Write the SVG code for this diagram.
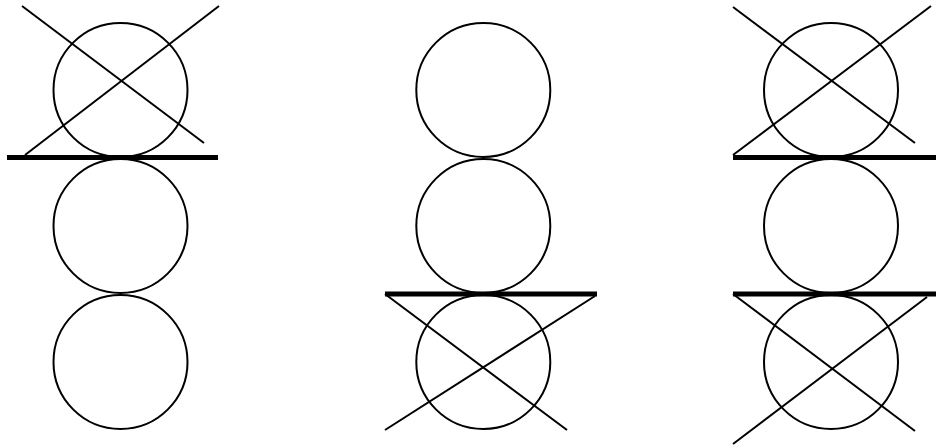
<svg xmlns="http://www.w3.org/2000/svg" width="936" height="446" viewBox="0 0 936 446">
<style>
.c{fill:none;stroke:#000;stroke-width:2}
.l{stroke:#000;stroke-width:2;fill:none}
.t{stroke:#000;stroke-width:5;fill:none}
</style>
<rect width="936" height="446" fill="#fff"/>
<g id="col1">
<circle class="c" cx="120.5" cy="90" r="67"/>
<circle class="c" cx="120.5" cy="226" r="67"/>
<circle class="c" cx="120.5" cy="362" r="67"/>
</g>
<g id="col2">
<circle class="c" cx="483.3" cy="90" r="67"/>
<circle class="c" cx="483.3" cy="226" r="67"/>
<circle class="c" cx="483.3" cy="362" r="67"/>
</g>
<g id="col3">
<circle class="c" cx="831" cy="90" r="67"/>
<circle class="c" cx="831" cy="226" r="67"/>
<circle class="c" cx="831" cy="362" r="67"/>
</g>
<g id="connectors">
<line class="t" x1="7" y1="157.5" x2="218" y2="157.5"/>
<line class="l" x1="22" y1="6" x2="204" y2="143"/>
<line class="l" x1="219" y1="6" x2="25" y2="155"/>
<line class="t" x1="385" y1="294" x2="597" y2="294"/>
<line class="l" x1="385" y1="294" x2="567" y2="430"/>
<line class="l" x1="595" y1="296" x2="385" y2="430"/>
<line class="t" x1="733" y1="157.5" x2="936" y2="157.5"/>
<line class="l" x1="733" y1="7" x2="915" y2="143"/>
<line class="l" x1="931" y1="6" x2="733" y2="155"/>
<line class="t" x1="733" y1="294" x2="936" y2="294"/>
<line class="l" x1="733" y1="294" x2="915" y2="431"/>
<line class="l" x1="927" y1="297" x2="733" y2="444"/>
</g>
</svg>
